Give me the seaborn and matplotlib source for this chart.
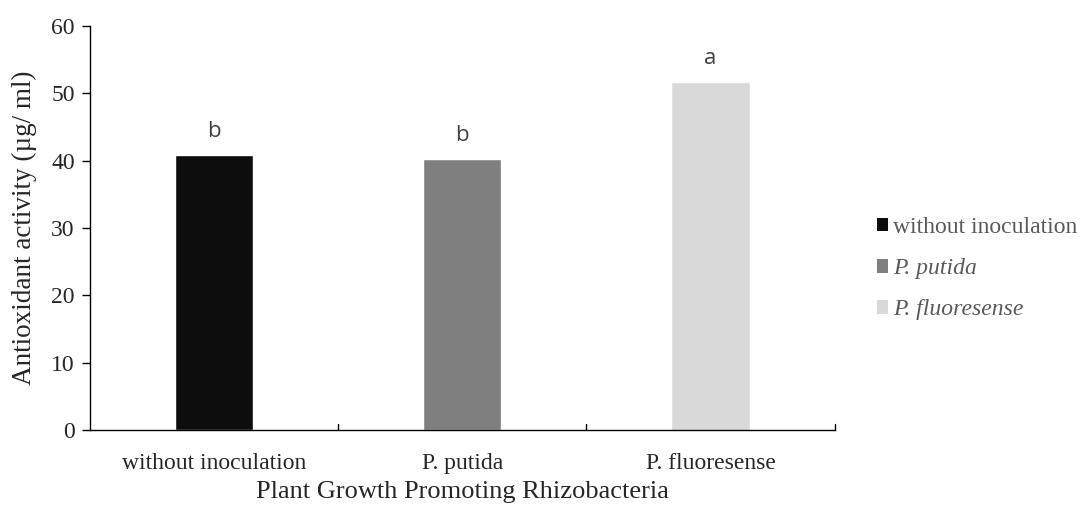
import pandas as pd
import matplotlib.pyplot as plt
import seaborn as sns
from matplotlib.patches import Patch

treatments = ["without inoculation", "P. putida", "P. fluoresense"]
activity = [40.8, 40.2, 51.6]
letters = ["b", "b", "a"]
bar_colors = ["#0d0d0d", "#7f7f7f", "#d9d9d9"]

df = pd.DataFrame({"treatment": treatments, "activity": activity})

sns.set_style("white")
plt.rcParams["font.family"] = ["Liberation Serif", "DejaVu Serif"]

fig = plt.figure(figsize=(10.8, 5.07), dpi=100)
ax = fig.add_axes([0.0833, 0.152, 0.6895, 0.797])

sns.barplot(data=df, x="treatment", y="activity", hue="treatment",
            palette=bar_colors, width=0.315, legend=False, ax=ax, saturation=1)

# letters above bars
for i, (v, l) in enumerate(zip(activity, letters)):
    ax.text(i, v + 2.7, l, ha="center", va="baseline", fontsize=16,
            color="#404040", family=["Open Sans", "DejaVu Sans"])

ax.set_ylim(0, 60)
ax.set_xlim(-0.5, 2.5)
ax.set_yticks(range(0, 61, 10))
ax.set_xticks([0, 1, 2])
ax.set_xticklabels(treatments, fontsize=17)
ax.tick_params(axis="y", labelsize=17, direction="out", length=6, width=1, left=True,
               color="black", pad=5)
ax.tick_params(axis="x", bottom=False, pad=13)
# category boundary ticks pointing up
for xb in [0.5, 1.5, 2.5]:
    ax.plot([xb, xb], [0, 0.9], color="black", lw=1, clip_on=False)

for s in ["top", "right"]:
    ax.spines[s].set_visible(False)
for s in ["left", "bottom"]:
    ax.spines[s].set_color("black")
    ax.spines[s].set_linewidth(1)

ax.set_xlabel("Plant Growth Promoting Rhizobacteria", fontsize=19, labelpad=5)
ax.set_ylabel("Antioxidant activity (µg/ ml)", fontsize=19.5, labelpad=10)

handles = [Patch(facecolor=c, edgecolor="none") for c in bar_colors]
leg = fig.legend(handles, treatments, loc="center left", bbox_to_anchor=(0.792, 0.47),
                 frameon=False, fontsize=17, handlelength=0.5, handleheight=0.5,
                 handletextpad=0.2, labelspacing=0.85)
for i, t in enumerate(leg.get_texts()):
    t.set_color("#595959")
    if i > 0:
        t.set_fontstyle("italic")

fig.savefig("out.png", dpi=100)
